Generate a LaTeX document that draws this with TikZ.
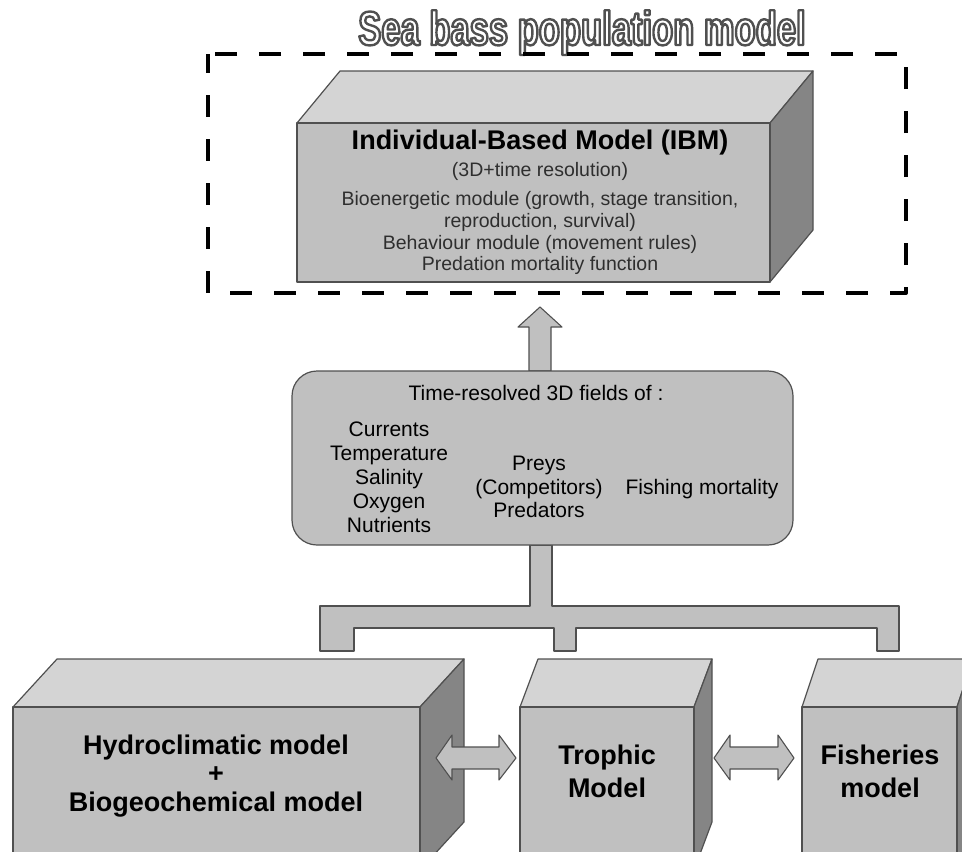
\documentclass[tikz,border=0pt]{standalone}
\usepackage{fontspec}
\setmainfont{Liberation Sans}
\newfontfamily\titlefont{Liberation Sans}[FakeStretch=0.72]
\definecolor{frontgray}{HTML}{C0C0C0}
\definecolor{topgray}{HTML}{D4D4D4}
\definecolor{sidegray}{HTML}{858585}
\definecolor{edgegray}{HTML}{505050}
\definecolor{textgray}{HTML}{2E2E2E}
\tikzset{
  faceline/.style={line width=1.2pt,draw=edgegray},
  blockarrow/.style={line width=1.1pt,draw=edgegray,fill=frontgray},
  dashbox/.style={line width=4pt,dash pattern=on 22pt off 22pt,dash phase=3pt},
  fieldbox/.style={line width=1.2pt,draw=edgegray,fill=frontgray,rounded corners=25pt},
  fieldtext/.style={align=center,font=\fontsize{21}{24}\selectfont},
  modeltext/.style={align=center,font=\fontsize{27}{33}\bfseries\selectfont}
}
% hollow letters: stroke only
\newcommand{\hollow}[1]{\special{pdf:literal direct 1 Tr 2.4 w}#1\special{pdf:literal direct 0 Tr}}
% front face x1,y1,x2,y2 and depth dx,dy
\newcommand{\cuboid}[6]{%
  \draw[faceline,fill=topgray] (#1,#2) -- (#1+#5,#2+#6) -- (#3+#5,#2+#6) -- (#3,#2) -- cycle;
  \draw[faceline,fill=sidegray] (#3,#2) -- (#3+#5,#2+#6) -- (#3+#5,#4+#6) -- (#3,#4) -- cycle;
  \draw[faceline,fill=frontgray] (#1,#2) rectangle (#3,#4);}

\begin{document}
\begin{tikzpicture}[line join=round,x=1pt,y=-1pt]
\useasboundingbox (0,0) rectangle (962,852);
\clip (0,0) rectangle (962,852);
% population model frame
\node[anchor=base,text=edgegray,font=\titlefont\fontsize{48}{48}\bfseries\selectfont] (title) at (582,45) {\hollow{Sea bass population model}};
\draw[dashbox] (208,54) rectangle (906,293);
\cuboid{297}{123}{770}{282}{43}{-52}
\node[font=\fontsize{27}{30}\bfseries\selectfont] (ibm) at (540,143) {Individual-Based Model (IBM)};
\node[text=textgray,font=\fontsize{19.5}{22}\selectfont] (ibmres) at (540,171) {(3D+time resolution)};
\node[text=textgray,align=center,anchor=north,font=\fontsize{19.5}{21.7}\selectfont] (ibmmod) at (540,188) {Bioenergetic module (growth, stage transition,\\ reproduction, survival)\\ Behaviour module (movement rules)\\ Predation mortality function};
% arrows to the IBM
\draw[blockarrow] (529,371) -- (529,327) -- (518,327) -- (540,307) -- (562,327) -- (551,327) -- (551,371) -- cycle;
\draw[blockarrow] (530,545) -- (530,606) -- (320,606) -- (320,651) -- (354,651) -- (354,628) -- (554,628) -- (554,651) -- (576,651) -- (576,628) -- (877,628) -- (877,651) -- (899,651) -- (899,606) -- (552,606) -- (552,545) -- cycle;
% forcing fields
\draw[fieldbox] (292,371) rectangle (793,545);
\node[fieldtext] (fields) at (536,393) {Time-resolved 3D fields of :};
\node[fieldtext] (physics) at (389,477) {Currents\\ Temperature\\ Salinity\\ Oxygen\\ Nutrients};
\node[fieldtext,font=\fontsize{21}{23.5}\selectfont] (biology) at (539,487) {Preys\\ (Competitors)\\ Predators};
\node[fieldtext] (fishing) at (702,489) {Fishing mortality};
% forcing models
\cuboid{13}{707}{420}{870}{44}{-48}
\cuboid{520}{707}{694}{870}{18}{-48}
\cuboid{802}{707}{957}{870}{16}{-48}
\node[modeltext,font=\fontsize{27}{28.5}\bfseries\selectfont] (hydro) at (216,776) {Hydroclimatic model\\ +\\ Biogeochemical model};
\node[modeltext] (trophic) at (607,771) {Trophic\\ Model};
\node[modeltext] (fisheries) at (880,771) {Fisheries\\ model};
\draw[blockarrow] (436,758) -- (452,735) -- (452,747) -- (499,747) -- (499,735) -- (516,758) -- (499,780) -- (499,769) -- (452,769) -- (452,780) -- cycle;
\draw[blockarrow] (714,758) -- (730,735) -- (730,747) -- (778,747) -- (778,735) -- (794,758) -- (778,780) -- (778,769) -- (730,769) -- (730,780) -- cycle;
\end{tikzpicture}
\end{document}
